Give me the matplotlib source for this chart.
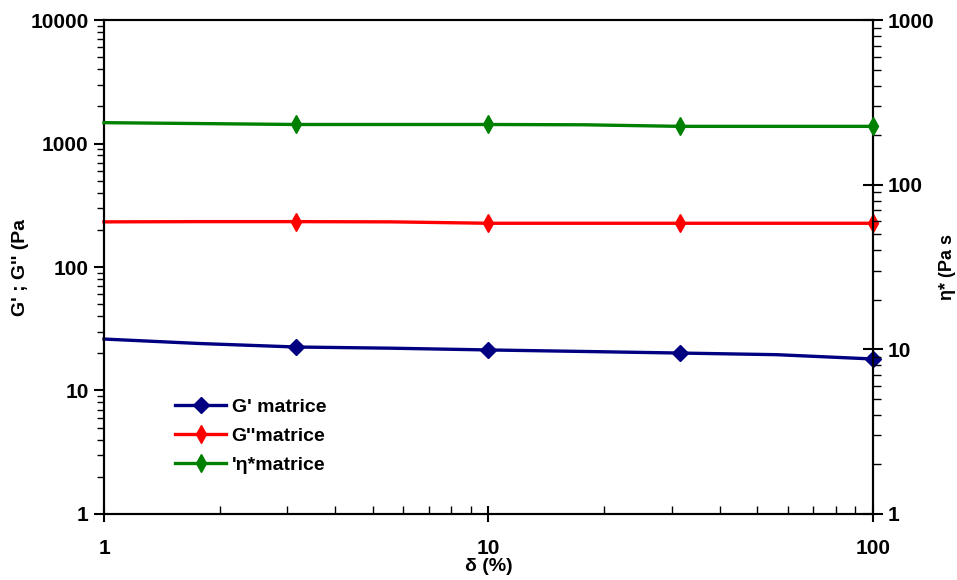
import matplotlib.pyplot as plt
from matplotlib.ticker import LogLocator, NullFormatter

plt.rcParams.update({
    "font.family": ["Liberation Sans", "DejaVu Sans"],
    "font.weight": "bold",
    "font.size": 13,
})

# strain sweep (%), markers shown every other point
strain = [1, 1.78, 3.16, 5.62, 10, 17.8, 31.6, 56.2, 100]
g_prime = [26.1, 24.0, 22.5, 22.0, 21.3, 20.7, 20.1, 19.5, 18.0]
g_second = [232, 233, 233, 232, 226, 226, 226, 226, 226]
eta_star = [238, 235, 232, 232, 232, 231, 226, 226, 226]

fig, ax = plt.subplots(figsize=(9.57, 5.80), dpi=100)
fig.subplots_adjust(left=0.1087, right=0.912, bottom=0.1138, top=0.9655)
ax2 = ax.twinx()

l1, = ax.plot(strain, g_prime, color="#000080", lw=2.4, marker="D", ms=8,
              markevery=slice(2, None, 2), clip_on=False, zorder=3)
l2, = ax.plot(strain, g_second, color="#ff0000", lw=2.4, marker="d", ms=9,
              markevery=slice(2, None, 2), clip_on=False, zorder=3)
l3, = ax2.plot(strain, eta_star, color="#008000", lw=2.4, marker="d", ms=9,
               markevery=slice(2, None, 2), clip_on=False, zorder=3)

ax.set_xscale("log")
ax.set_yscale("log")
ax2.set_yscale("log")
ax.set_xlim(1, 100)
ax.set_ylim(1, 10000)
ax2.set_ylim(1, 1000)

for a in (ax, ax2):
    for s in a.spines.values():
        s.set_linewidth(1.5)
        s.set_color("black")

ax.set_xticks([1, 10, 100])
ax.set_xticklabels(["1", "10", "100"])
ax.xaxis.set_minor_locator(LogLocator(base=10, subs=range(2, 10)))
ax.xaxis.set_minor_formatter(NullFormatter())
ax.tick_params(axis="x", which="major", direction="inout", length=12, width=1.5,
               labelsize=15, pad=12)
ax.tick_params(axis="x", which="minor", direction="in", length=6, width=1)

ax.set_yticks([1, 10, 100, 1000, 10000])
ax.set_yticklabels(["1", "10", "100", "1000", "10000"])
ax.yaxis.set_minor_locator(LogLocator(base=10, subs=range(2, 10)))
ax.yaxis.set_minor_formatter(NullFormatter())
ax.tick_params(axis="y", which="major", direction="out", length=7, width=1.5,
               labelsize=15, pad=4)
ax.tick_params(axis="y", which="minor", direction="out", length=5, width=1)

ax2.set_yticks([1, 10, 100, 1000])
ax2.set_yticklabels(["1", "10", "100", "1000"])
ax2.yaxis.set_minor_locator(LogLocator(base=10, subs=range(2, 10)))
ax2.yaxis.set_minor_formatter(NullFormatter())
ax2.tick_params(axis="y", which="major", direction="inout", length=14, width=1.5,
                labelsize=15, pad=4)
ax2.tick_params(axis="y", which="minor", direction="out", length=6, width=1)

ax.set_xlabel("δ (%)", fontsize=14, fontweight="bold", labelpad=0)
ax.set_ylabel("G' ; G'' (Pa", fontsize=14, fontweight="bold")
ax2.set_ylabel("η* (Pa s", fontsize=13, fontweight="bold")
ax.yaxis.set_label_coords(-0.098, 0.5)
ax2.yaxis.set_label_coords(1.086, 0.5)

ax2.legend([l1, l2, l3], ["G' matrice", "G''matrice", "'η*matrice"],
           loc="upper left", bbox_to_anchor=(0.07, 0.27), frameon=False,
           numpoints=1, handlelength=2.6, handletextpad=0.3,
           labelspacing=0.6, prop={"size": 14, "weight": "bold"})

fig.savefig("out.png", dpi=100)
